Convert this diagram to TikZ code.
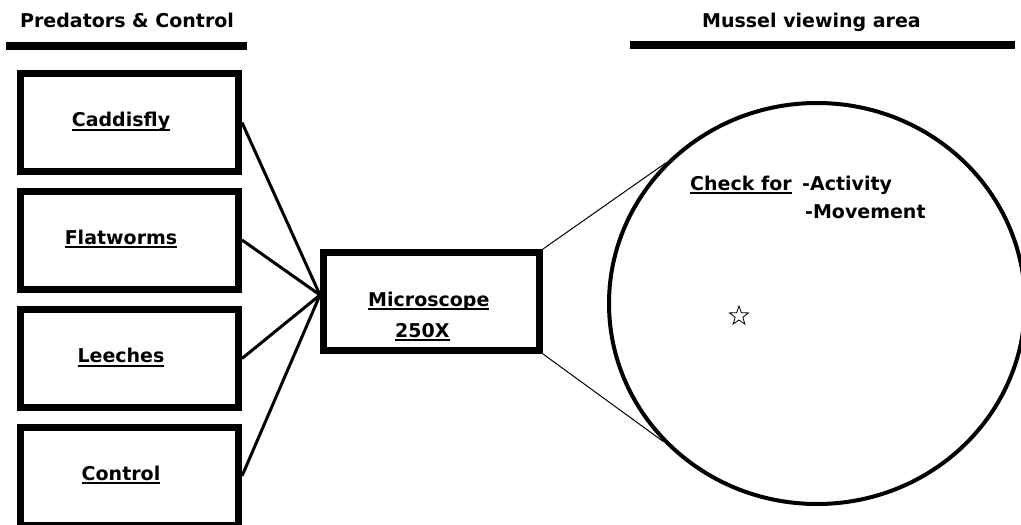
\documentclass[tikz,border=0pt]{standalone}
\usepackage{fontspec}
\setmainfont{DejaVu Sans}
\usetikzlibrary{shapes.geometric}
\newcommand\myul[1]{\setbox0\hbox{#1}\rlap{\rule[-4.3pt]{\wd0}{2.2pt}}\box0}
\tikzset{
  txt/.style={font=\fontsize{19}{31}\selectfont\bfseries, inner sep=0pt, anchor=base west},
  pbox/.style={draw, line width=7pt, minimum width=218pt, minimum height=98pt, inner sep=0pt,
    text height=14pt, text depth=6pt, font=\fontsize{19}{31}\selectfont\bfseries},
  bar/.style={line width=8pt},
  link/.style={line width=3pt},
  thin/.style={line width=1pt},
}
\begin{document}
\begin{tikzpicture}[x=1pt,y=-1pt]
\useasboundingbox (0,0) rectangle (1021,525);
% headings
\node[txt] (h1) at (20,27) {Predators \& Control};
\draw[bar] (6,46) -- (247,46);
\node[txt] (h2) at (702,27) {Mussel viewing area};
\draw[bar] (630,45) -- (1015,45);
% boxes
\node[pbox] (cad) at (129.5,122.5) {\myul{Caddisfly}\kern17pt};
\node[pbox] (flat) at (129.5,240) {\myul{Flatworms}\kern17pt};
\node[pbox] (lee) at (129.5,358.5) {\myul{Leeches}\kern17pt};
\node[pbox] (con) at (129.5,476) {\myul{Control}\kern17pt};
% microscope
\node[pbox, minimum width=216pt] (mic) at (431.5,301.5) {};
\node[txt] (mictext1) at (368,306) {\myul{Microscope}};
\node[txt] (mictext2) at (395,337) {\myul{250X}};
\coordinate (hub) at (320,295);
\foreach \b in {cad,flat,lee,con} \draw[link] (\b.east) -- (hub);
% viewing area
\node[ellipse, draw, line width=4pt, minimum width=416pt, minimum height=401pt, inner sep=0pt] (view) at (817,303.5) {};
\draw[thin] (mic.north east) -- (view.137.4);
\draw[thin] (mic.south east) -- (view.222);
\node[txt] (check) at (690,190) {\myul{Check for}};
\node[txt] (act) at (802,190) {-Activity};
\node[txt] (mov) at (805,218) {-Movement};
\node[star, star points=5, star point ratio=2.5, draw, line width=0.8pt, minimum size=20pt, inner sep=0pt] (star) at (739,316) {};
\end{tikzpicture}
\end{document}
